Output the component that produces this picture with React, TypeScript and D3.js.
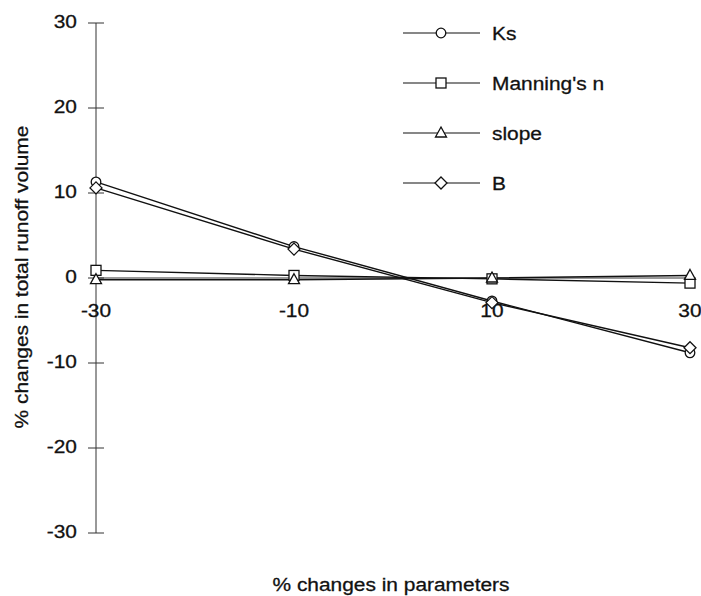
import React from "react";
import * as d3 from "d3";

const xValues = [-30, -10, 10, 30];
const ksValues = [11.3, 3.7, -2.7, -8.8];
const manningValues = [0.9, 0.3, -0.1, -0.6];
const slopeValues = [-0.2, -0.2, 0.0, 0.3];
const bValues = [10.6, 3.4, -2.9, -8.2];
const yTicks = [30, 20, 10, 0, -10, -20, -30];
const xTicks = [-30, -10, 10, 30];

const seriesList = [
  { name: "Ks", values: ksValues, marker: "circle" },
  { name: "Manning's n", values: manningValues, marker: "square" },
  { name: "slope", values: slopeValues, marker: "triangle" },
  { name: "B", values: bValues, marker: "diamond" },
];

const W = 701;
const H = 596;
const FONT = "'Liberation Sans', Arial, Helvetica, sans-serif";
const SX = 1.1;

function Marker({ type, x, y }: { type: string; x: number; y: number }) {
  const common = { fill: "#fff", stroke: "#111", strokeWidth: 1.3 };
  if (type === "circle") return <circle cx={x} cy={y} r={4.8} {...common} />;
  if (type === "square") return <rect x={x - 5} y={y - 5} width={10} height={10} {...common} />;
  if (type === "triangle")
    return <path d={`M${x},${y - 6}L${x + 5.5},${y + 4}L${x - 5.5},${y + 4}Z`} {...common} />;
  return <path d={`M${x},${y - 6}L${x + 6},${y}L${x},${y + 6}L${x - 6},${y}Z`} {...common} />;
}

function Txt({
  x,
  y,
  anchor = "start",
  rotate = 0,
  size = 19,
  dy,
  children,
}: {
  x: number;
  y: number;
  anchor?: string;
  rotate?: number;
  size?: number;
  dy?: string;
  children: React.ReactNode;
}) {
  return (
    <text
      transform={`translate(${x},${y}) rotate(${rotate}) scale(${SX},1)`}
      textAnchor={anchor}
      dy={dy}
      fontSize={size}
      fill="#111"
      stroke="#111"
      strokeWidth={0.3}
    >
      {children}
    </text>
  );
}

export default function App() {
  const x = d3.scaleLinear().domain([-30, 30]).range([96, 690]);
  const y = d3.scaleLinear().domain([-30, 30]).range([533, 23]);
  const line = d3
    .line<number>()
    .x((_, i) => x(xValues[i]))
    .y((d) => y(d));

  return (
    <svg
      width={W}
      height={H}
      style={{ position: "absolute", left: 0, top: 0, background: "#fff" }}
      fontFamily={FONT}
    >
      {/* y axis */}
      <line x1={x(-30)} x2={x(-30)} y1={y(30)} y2={y(-30)} stroke="#333" strokeWidth={1} />
      {yTicks.map((t) => (
        <g key={t}>
          <line x1={x(-30) - 8} x2={x(-30) + 8} y1={y(t)} y2={y(t)} stroke="#333" strokeWidth={1} />
          <Txt x={77} y={y(t) - 2} anchor="end" dy="0.35em">
            {t}
          </Txt>
        </g>
      ))}
      {/* x axis */}
      <line x1={x(-30)} x2={x(30)} y1={y(0)} y2={y(0)} stroke="#333" strokeWidth={1} />
      {xTicks.map((t) => (
        <g key={t}>
          <line x1={x(t)} x2={x(t)} y1={y(0) - 6} y2={y(0) + 6} stroke="#333" strokeWidth={1} />
          <Txt x={x(t)} y={y(0) + 39} anchor="middle">
            {t}
          </Txt>
        </g>
      ))}
      {/* series */}
      {seriesList.map((s) => (
        <path key={s.name} d={line(s.values) || ""} fill="none" stroke="#111" strokeWidth={1.4} />
      ))}
      {seriesList.map((s) =>
        s.values.map((v, i) => <Marker key={s.name + i} type={s.marker} x={x(xValues[i])} y={y(v)} />)
      )}
      {/* legend */}
      {seriesList.map((s, i) => {
        const ly = 33 + i * 50;
        return (
          <g key={s.name}>
            <line x1={403} x2={480} y1={ly} y2={ly} stroke="#111" strokeWidth={1.2} />
            <Marker type={s.marker} x={441} y={ly} />
            <Txt x={492} y={ly} dy="0.35em">
              {s.name}
            </Txt>
          </g>
        );
      })}
      {/* axis titles */}
      <Txt x={28} y={277} anchor="middle" rotate={-90}>
        % changes in total runoff volume
      </Txt>
      <Txt x={391} y={591} anchor="middle">
        % changes in parameters
      </Txt>
    </svg>
  );
}
